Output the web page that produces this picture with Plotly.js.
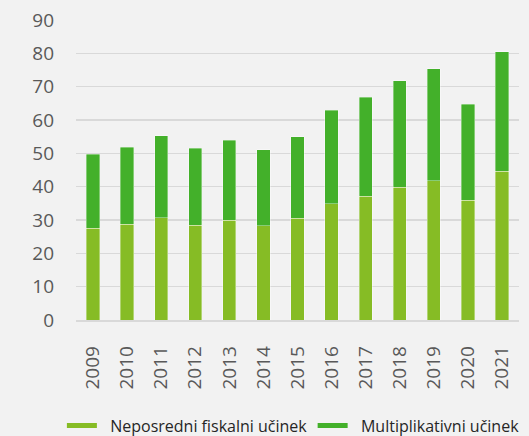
<!DOCTYPE html>
<html>
<head>
<meta charset="utf-8">
<script src="https://cdn.plot.ly/plotly-3.0.1.min.js"></script>
<style>html,body{margin:0;padding:0;background:#F2F2F2;}#chart{width:529px;height:436px;}</style>
</head>
<body>
<div id="chart"></div>
<script>
const years = ['2009','2010','2011','2012','2013','2014','2015','2016','2017','2018','2019','2020','2021'];
const neposredni = [27.5, 28.7, 30.7, 28.5, 29.9, 28.3, 30.5, 34.9, 37.1, 39.8, 41.8, 35.9, 44.7];
const multiplikativni = [22.2, 23.2, 24.6, 23.0, 24.1, 22.8, 24.5, 28.0, 29.7, 32.0, 33.6, 28.8, 35.8];
const seriesNames = ['Neposredni fiskalni učinek', 'Multiplikativni učinek'];
const colors = ['#86BC25', '#43B02A'];

const pad = '\u00a0\u00a0';
const outline = {color: 'rgba(255,255,255,0.45)', width: 0.8};
const traces = [
  {type: 'bar', x: years, y: neposredni, name: seriesNames[0], marker: {color: colors[0], line: outline}, showlegend: false, hoverinfo: 'y'},
  {type: 'bar', x: years, y: multiplikativni, name: seriesNames[1], marker: {color: colors[1], line: outline}, showlegend: false, hoverinfo: 'y'},
  {type: 'scatter', mode: 'lines', x: [null], y: [null], name: pad + seriesNames[0], line: {color: colors[0], width: 5}, legend: 'legend'},
  {type: 'scatter', mode: 'lines', x: [null], y: [null], name: pad + seriesNames[1], line: {color: colors[1], width: 5}, legend: 'legend2'}
];

const font = {family: '"Open Sans", "DejaVu Sans", sans-serif', color: '#595959'};
const legendBase = {
  orientation: 'h', xref: 'container', yref: 'container',
  xanchor: 'left', y: 0.024, yanchor: 'middle',
  font: {size: 16, color: '#262626', family: '"Open Sans", "DejaVu Sans", sans-serif'},
  bgcolor: 'rgba(0,0,0,0)', itemwidth: 30
};
const layout = {
  width: 529, height: 436,
  paper_bgcolor: '#F2F2F2', plot_bgcolor: '#F2F2F2',
  barmode: 'stack', bargap: 0.61,
  margin: {l: 76, r: 10, t: 20, b: 116, pad: 0},
  font: font,
  showlegend: true,
  xaxis: {
    type: 'category', tickangle: -90, tickfont: {size: 19, color: '#595959'},
    showgrid: false, showline: true, linecolor: '#D9D9D9', linewidth: 1.5,
    ticks: '', ticklabelstandoff: 17, fixedrange: true, automargin: false
  },
  yaxis: {
    range: [0, 90], dtick: 10, tick0: 0, tickfont: {size: 19, color: '#595959'},
    showgrid: true, gridcolor: '#D9D9D9', gridwidth: 1.5,
    zeroline: false, showline: false, ticks: '', ticklabelstandoff: 21, fixedrange: true, automargin: false
  },
  legend: Object.assign({}, legendBase, {x: 0.117}),
  legend2: Object.assign({}, legendBase, {x: 0.591})
};

Plotly.newPlot('chart', traces, layout, {displayModeBar: false, staticPlot: true});
</script>
</body>
</html>
